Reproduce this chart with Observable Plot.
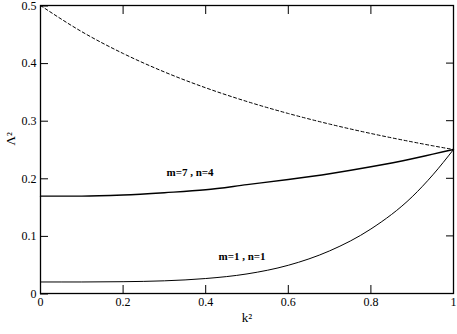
<!DOCTYPE html>
<html><head><meta charset="utf-8">
<script src="https://cdn.jsdelivr.net/npm/d3@7"></script>
<script src="https://cdn.jsdelivr.net/npm/@observablehq/plot@0.6"></script>
<style>
body{margin:0;background:#fff}
</style>
</head><body><div id="chart"></div>
<script>
// k^2 sample points
const k2 = [0, 0.1, 0.2, 0.3, 0.4, 0.5, 0.6, 0.7, 0.8, 0.9, 0.95, 1.0];
// dashed upper curve
const upper = [0.5, 0.4545, 0.4167, 0.3846, 0.3571, 0.3333, 0.3125, 0.2941, 0.2778, 0.2632, 0.2564, 0.25];
// m=7 , n=4
const m7n4 = [0.169, 0.169, 0.171, 0.175, 0.180, 0.189, 0.198, 0.208, 0.220, 0.234, 0.242, 0.25];
// m=1 , n=1
const m1n1 = [0.020, 0.020, 0.0205, 0.022, 0.026, 0.034, 0.049, 0.074, 0.112, 0.168, 0.206, 0.25];

const xTicks = [0, 0.2, 0.4, 0.6, 0.8, 1];
const yTicks = [0, 0.1, 0.2, 0.3, 0.4, 0.5];

const labelText = ["m=7 , n=4", "m=1 , n=1"];
const labelX = [0.362, 0.488];
const labelY = [0.21, 0.065];

const rows = (ys) => k2.map((x, i) => ({x, y: ys[i]}));
const labels = labelText.map((t, i) => ({t, x: labelX[i], y: labelY[i]}));
const fmt = d => String(d);
const FONT = "Liberation Serif, DejaVu Serif, Times New Roman, serif";

const chart = Plot.plot({
  width: 457,
  height: 334,
  marginLeft: 40,
  marginRight: 4,
  marginTop: 5,
  marginBottom: 41,
  style: {"font-family": FONT, "font-size": "12px", "background": "#fff", "color": "#000"},
  x: {domain: [0, 1]},
  y: {domain: [0, 0.5]},
  marks: [
    Plot.axisX({anchor: "bottom", ticks: xTicks, tickSize: -8, tickPadding: 12, tickFormat: fmt, label: null, fontSize: 12, fontFamily: FONT}),
    Plot.axisX({anchor: "top", ticks: xTicks, tickSize: -8, fill: "none", label: null}),
    Plot.axisY({anchor: "left", ticks: yTicks, tickSize: -8, tickPadding: 12, tickFormat: fmt, label: null, fontSize: 12, fontFamily: FONT, dy: 0.5}),
    Plot.axisY({anchor: "right", ticks: yTicks, tickSize: -8, fill: "none", label: null}),
    Plot.line(rows(upper), {x: "x", y: "y", stroke: "#000", strokeWidth: 1, strokeDasharray: "3,2.5", curve: "monotone-x"}),
    Plot.line(rows(m7n4), {x: "x", y: "y", stroke: "#000", strokeWidth: 1.4, curve: "monotone-x"}),
    Plot.line(rows(m1n1), {x: "x", y: "y", stroke: "#000", strokeWidth: 1, curve: "monotone-x"}),
    Plot.text(labels, {x: "x", y: "y", text: "t", fontWeight: "bold", fontSize: 11, fontFamily: FONT, fill: "#000"}),
    Plot.text(["k²"], {frameAnchor: "bottom", dy: 28, fontSize: 13, fontFamily: FONT, fill: "#000"}),
    Plot.text(["Λ²"], {frameAnchor: "left", dx: -30, dy: -4, rotate: -90, fontSize: 13, fontFamily: FONT, fill: "#000"}),
    Plot.frame({stroke: "#000", strokeWidth: 1.3})
  ]
});
document.getElementById("chart").appendChild(chart);
</script>
</body></html>
